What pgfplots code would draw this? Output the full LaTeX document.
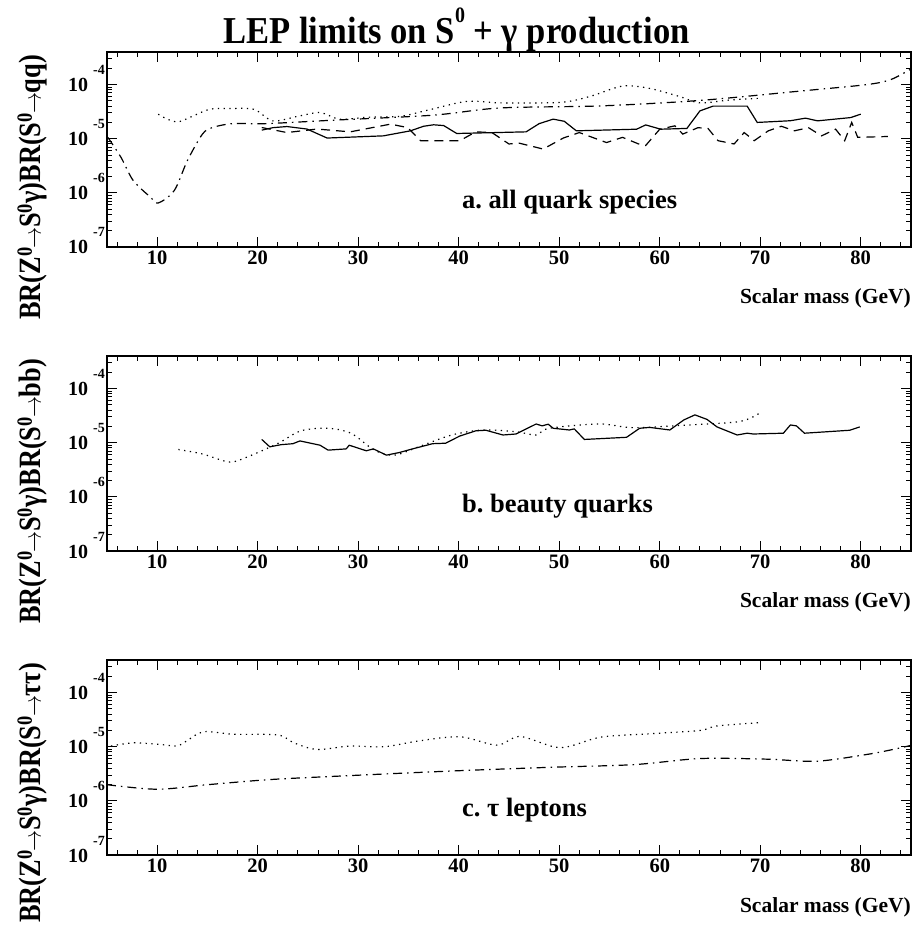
\documentclass[border=0pt]{standalone}
\usepackage{fontspec}
\setmainfont{Liberation Serif}
\usepackage{pgfplots}
\pgfplotsset{compat=1.18}
\usetikzlibrary{calc}
\frenchspacing

\newcommand{\TL}[1]{{\fontsize{20}{20}\selectfont\bfseries 10}\hspace{5pt}\raisebox{17pt}{\fontsize{14}{14}\selectfont\bfseries #1}}
\newcommand{\sz}{\textsuperscript{0}}
\newcommand{\YL}[1]{\scalebox{0.85}[1]{BR(Z\sz\kern-1pt$\rightarrow$\kern-1pt S\sz γ)BR(S\sz\kern-1pt$\rightarrow$\kern-1pt #1)}}

\pgfplotsset{
  every axis/.append style={
  width=804pt, height=195pt, scale only axis,
  xmin=5, xmax=85, ymin=1e-7, ymax=4e-4,
  xtick={10,20,30,40,50,60,70,80},
  xticklabels={10,20,30,40,50,60,70,80},
  minor xtick={6,8,12,14,16,18,22,24,26,28,32,34,36,38,42,44,46,48,52,54,56,58,62,64,66,68,72,74,76,78,82,84},
  ytick={1e-7,1e-6,1e-5,1e-4},
  yticklabels={\TL{-7},\TL{-6},\TL{-5},\TL{-4}},
  minor ytick={2e-7,3e-7,4e-7,5e-7,6e-7,7e-7,8e-7,9e-7,2e-6,3e-6,4e-6,5e-6,6e-6,7e-6,8e-6,9e-6,2e-5,3e-5,4e-5,5e-5,6e-5,7e-5,8e-5,9e-5,2e-4,3e-4},
  tick align=inside, major tick length=10pt, minor tick length=5pt,
  axis line style={line width=1.4pt},
  xticklabel style={font=\fontsize{20.5}{20.5}\selectfont\bfseries},
  yticklabel style={anchor=base east, inner sep=0pt, xshift=-2pt, yshift=-7pt},
 },
 every tick/.append style={black, line width=1pt},
}

\begin{document}
\begin{tikzpicture}
% ---------------- panel a
\begin{semilogyaxis}[name=a]
\addplot[black, line width=1.2pt, dash pattern=on 1.3pt off 4.5pt, smooth] coordinates {
(10.1,2.84e-5)(11,2.3e-5)(12.1,2.05e-5)(13.5,2.6e-5)(15.2,3.5e-5)(17,3.6e-5)(19.6,3.5e-5)
(21.5,2.14e-5)(24,2.6e-5)(26.2,3.04e-5)(28.2,2.29e-5)(31,2.5e-5)(34.2,2.6e-5)(37,3.4e-5)
(40.8,4.9e-5)(44.1,4.6e-5)(50.1,4.7e-5)(53,6.0e-5)(56.3,9.4e-5)(59,8.5e-5)(62,6.0e-5)
(64.0,4.6e-5)(67,5.2e-5)(70,5.6e-5)};
\addplot[black, line width=1.2pt, dash pattern=on 9pt off 5pt on 1.5pt off 5pt, smooth] coordinates {
(5.1,1.05e-5)(6.4,4.5e-6)(7.6,1.7e-6)(9.3,8.4e-7)(10.1,6.5e-7)(11.7,1.11e-6)(13.0,3.95e-6)
(14.5,1.22e-5)(15.5,1.61e-5)(17.5,1.9e-5)(20.8,1.9e-5)(27.5,2.2e-5)(37.4,2.72e-5)(44.1,3.7e-5)
(54.1,4.04e-5)(64,5.1e-5)(74,7.6e-5)(80.6,1.0e-4)(83,1.24e-4)(84.9,1.9e-4)};
\addplot[black, line width=1.2pt] coordinates {
(20.4,1.44e-5)(21.5,1.6e-5)(22.9,1.68e-5)(24.9,1.51e-5)(26.9,1.03e-5)(32.5,1.13e-5)(35.2,1.4e-5)
(36.5,1.7e-5)(37.5,1.81e-5)(38.5,1.75e-5)(39.8,1.25e-5)(46.7,1.34e-5)(48,1.9e-5)(49.4,2.3e-5)
(50.5,2.1e-5)(51.7,1.4e-5)(57.7,1.5e-5)(58.6,1.8e-5)(60.1,1.5e-5)(62.7,1.55e-5)(64,3.27e-5)
(65.3,4.0e-5)(68.7,4.0e-5)(69.7,2.0e-5)(73,2.15e-5)(74.5,2.4e-5)(75.7,2.14e-5)(79,2.46e-5)(80,2.84e-5)};
\addplot[black, line width=1.2pt, dash pattern=on 9pt off 6pt] coordinates {
(20.4,1.61e-5)(22.9,1.3e-5)(25.9,1.51e-5)(29.2,1.34e-5)(33.2,1.86e-5)(34.9,1.61e-5)(36.2,9.2e-6)
(40.1,9.2e-6)(41.7,1.34e-5)(43.3,1.3e-5)(45,8.0e-6)(46,8.3e-6)(48.4,6.45e-6)(50.4,1.03e-5)
(52,1.3e-5)(54.7,8.5e-6)(56.3,1.06e-5)(57.9,8.0e-6)(58.6,7.5e-6)(60,1.5e-5)(61.5,1.73e-5)
(62.3,1.22e-5)(63.8,1.6e-5)(64.8,1.55e-5)(65.8,9.2e-6)(67.4,8.0e-6)(68.4,1.3e-5)(69.4,9.2e-6)
(70.8,1.4e-5)(72.1,1.7e-5)(73.4,1.4e-5)(74.8,1.6e-5)(76.1,1.13e-5)(77.5,1.5e-5)(78.4,9.2e-6)
(79.1,2.0e-5)(79.7,1.06e-5)(82.7,1.1e-5)};
\node[anchor=base west, inner sep=0pt, font=\fontsize{26.5}{26.5}\selectfont\bfseries] at (rel axis cs:0.4415,0.2) {a.\ all quark species};
\end{semilogyaxis}
% ---------------- panel b
\begin{semilogyaxis}[name=b, at={($(a.south west)+(0,-304pt)$)}, anchor=south west]
\addplot[black, line width=1.2pt, dash pattern=on 1.3pt off 4.5pt, smooth] coordinates {
(12.1,7.5e-6)(14.5,6.2e-6)(17.2,4.4e-6)(19,5.5e-6)(22,9.7e-6)(24.3,1.66e-5)(27,1.85e-5)
(29.3,1.49e-5)(31.6,7.3e-6)(33.6,5.9e-6)(36,8.4e-6)(39.3,1.39e-5)(42.4,1.72e-5)(45.7,1.6e-5)
(47.7,1.39e-5)(49,1.85e-5)(54,2.22e-5)(57.3,1.9e-5)(62.3,2.1e-5)(67.9,2.46e-5)(69.9,3.5e-5)};
\addplot[black, line width=1.2pt] coordinates {
(20.4,1.15e-5)(21.2,8.4e-6)(22.3,9.2e-6)(23.5,9.6e-6)(24.2,1.08e-5)(26.2,9.0e-6)(27,7.3e-6)
(28.8,7.7e-6)(29.1,9.0e-6)(30.8,7.1e-6)(31.5,7.7e-6)(32.8,5.9e-6)(34.1,6.6e-6)(35.4,7.7e-6)
(37.4,9.6e-6)(38.7,9.8e-6)(40.1,1.33e-5)(41.7,1.66e-5)(42.7,1.7e-5)(44.4,1.39e-5)(45.7,1.45e-5)
(47.7,2.22e-5)(48.3,2.05e-5)(48.9,2.2e-5)(49.4,1.85e-5)(51,1.72e-5)(51.5,1.8e-5)(52.5,1.15e-5)
(56.7,1.26e-5)(58,1.85e-5)(59,1.92e-5)(61,1.72e-5)(62.4,2.64e-5)(63.5,3.27e-5)(64.7,2.7e-5)
(65.7,1.96e-5)(67.7,1.39e-5)(68.7,1.5e-5)(69.3,1.45e-5)(72.3,1.5e-5)(73,2.13e-5)(73.6,2.05e-5)
(74.4,1.5e-5)(78.9,1.7e-5)(79.9,1.96e-5)};
\node[anchor=base west, inner sep=0pt, font=\fontsize{26.5}{26.5}\selectfont\bfseries] at (rel axis cs:0.4415,0.2) {b.\ beauty quarks};
\end{semilogyaxis}
% ---------------- panel c
\begin{semilogyaxis}[name=c, at={($(a.south west)+(0,-608pt)$)}, anchor=south west]
\addplot[black, line width=1.2pt, dash pattern=on 1.3pt off 4.5pt, smooth] coordinates {
(5.4,1.03e-5)(7.6,1.18e-5)(10.3,1.1e-5)(12,1.03e-5)(12.9,1.27e-5)(14.6,1.89e-5)(17.6,1.7e-5)
(22,1.65e-5)(23.6,1.18e-5)(25.9,8.9e-6)(29.2,1.03e-5)(32.6,1.0e-5)(35.9,1.27e-5)(40.1,1.53e-5)
(43.8,1.07e-5)(46.1,1.55e-5)(50.1,9.6e-6)(54.1,1.5e-5)(59.1,1.74e-5)(64,2.0e-5)(65.7,2.42e-5)(70,2.79e-5)};
\addplot[black, line width=1.2pt, dash pattern=on 9pt off 5pt on 1.5pt off 5pt, smooth] coordinates {
(5,1.99e-6)(10,1.64e-6)(15,1.99e-6)(21,2.46e-6)(27.6,2.84e-6)(39.1,3.55e-6)(49.1,4.17e-6)
(57.4,4.67e-6)(64,6.05e-6)(70.6,5.9e-6)(75.6,5.4e-6)(80.6,7.2e-6)(83.2,8.9e-6)(85,1.06e-5)};
\node[anchor=base west, inner sep=0pt, font=\fontsize{26.5}{26.5}\selectfont\bfseries] at (rel axis cs:0.4415,0.2) {c.\ τ leptons};
\end{semilogyaxis}
% ---------------- titles and labels
\node[anchor=base, inner sep=0pt, font=\fontsize{38}{38}\selectfont\bfseries] at ($(a.north west)+(349.5pt,8.7pt)$)
  {\scalebox{0.91}[1]{LEP limits on S\raisebox{21pt}{\fontsize{22}{22}\selectfont 0} + γ production}};
\node[anchor=base east, inner sep=0pt, font=\fontsize{21.5}{21.5}\selectfont\bfseries] at ($(a.south east)+(0,-57pt)$) {Scalar mass (GeV)};
\node[anchor=base east, inner sep=0pt, font=\fontsize{21.5}{21.5}\selectfont\bfseries] at ($(b.south east)+(0,-57pt)$) {Scalar mass (GeV)};
\node[anchor=base east, inner sep=0pt, font=\fontsize{21.5}{21.5}\selectfont\bfseries] at ($(c.south east)+(0,-57pt)$) {Scalar mass (GeV)};
\node[rotate=90, anchor=base east, inner sep=0pt, font=\fontsize{31}{31}\selectfont\bfseries] at ($(a.north west)+(-66pt,-3pt)$) {\YL{qq}};
\node[rotate=90, anchor=base east, inner sep=0pt, font=\fontsize{31}{31}\selectfont\bfseries] at ($(b.north west)+(-66pt,-3pt)$) {\YL{bb}};
\node[rotate=90, anchor=base east, inner sep=0pt, font=\fontsize{31}{31}\selectfont\bfseries] at ($(c.north west)+(-66pt,-3pt)$) {\YL{ττ}};
\pgfresetboundingbox
\path ($(a.north west)+(-107pt,52pt)$) rectangle ($(a.north west)+(806pt,-880pt)$);
\end{tikzpicture}
\end{document}
